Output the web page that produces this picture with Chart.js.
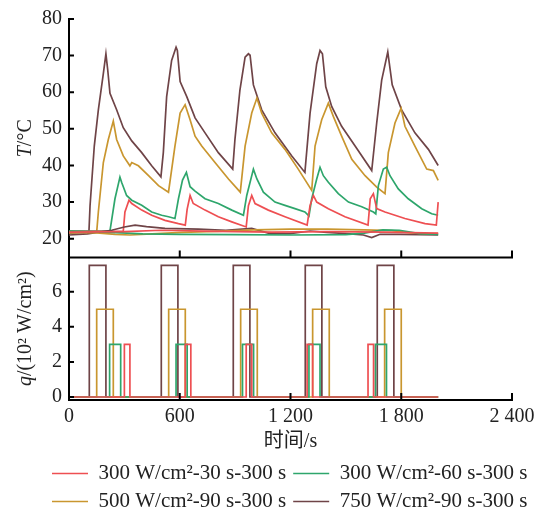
<!DOCTYPE html>
<html>
<head>
<meta charset="utf-8">
<title>T / q time chart</title>
<script src="https://cdn.jsdelivr.net/npm/chart.js@4.4.1/dist/chart.umd.min.js"></script>
<style>
html, body { margin:0; padding:0; background:#fff; }
#wrap { width:544px; height:512px; }
</style>
</head>
<body>
<div id="wrap"><canvas id="myChart" width="544" height="512"></canvas></div>
<script>
// legend labels and colours, in legend order
var seriesLabels = ['300 W/cm²-30 s-300 s', '300 W/cm²-60 s-300 s', '500 W/cm²-90 s-300 s', '750 W/cm²-90 s-300 s'];
var seriesColors = ['#ee4f52', '#2ea66c', '#c9962f', '#6f4447'];

// heated-side temperature (time s, T degC)
var redT_t = [0, 294, 303, 325, 340, 394, 448, 520, 593, 630, 640, 656, 673, 737, 809, 882, 960, 972, 990, 1008, 1080, 1170, 1290, 1306, 1324, 1342, 1405, 1495, 1620, 1632, 1649, 1667, 1712, 1820, 1929, 1990, 2000];
var redT   = [22.0, 22.0, 27.3, 30.5, 29.6, 27.8, 26.4, 25.0, 24.1, 23.7, 28.0, 31.8, 29.6, 27.8, 26.0, 24.6, 23.2, 29.0, 31.8, 29.6, 27.8, 26.0, 23.7, 29.1, 31.8, 30.0, 28.2, 26.0, 23.7, 30.9, 32.3, 28.2, 27.3, 25.5, 24.1, 23.7, 30.0];

var greenT_t = [0, 222, 249, 276, 285, 312, 340, 394, 448, 502, 539, 574, 593, 615, 636, 656, 683, 737, 809, 882, 945, 963, 999, 1018, 1053, 1116, 1170, 1224, 1278, 1300, 1315, 1342, 1360, 1378, 1405, 1459, 1514, 1586, 1649, 1662, 1676, 1703, 1721, 1739, 1784, 1838, 1911, 1965, 2000];
var greenT   = [22.1, 22.1, 30.9, 36.8, 35.4, 31.8, 30.5, 29.1, 27.3, 26.4, 26.0, 25.5, 30.9, 36.0, 38.1, 34.2, 33.0, 30.9, 29.6, 27.8, 26.4, 31.8, 39.0, 36.3, 32.7, 30.0, 29.1, 28.2, 27.3, 26.2, 30.9, 36.3, 39.5, 37.2, 35.4, 32.3, 30.0, 28.7, 27.3, 26.8, 34.5, 39.0, 39.5, 37.2, 33.6, 30.9, 28.2, 26.8, 26.4];

var goldT_t = [0, 150, 159, 186, 213, 240, 258, 294, 330, 340, 376, 431, 485, 539, 574, 602, 629, 656, 683, 719, 791, 864, 928, 954, 990, 1018, 1044, 1098, 1170, 1242, 1315, 1333, 1369, 1405, 1432, 1477, 1532, 1604, 1667, 1712, 1730, 1766, 1799, 1820, 1874, 1938, 1974, 2000];
var goldT   = [21.6, 21.8, 27.3, 40.8, 47.1, 52.1, 47.1, 42.6, 39.9, 40.8, 39.9, 37.2, 34.5, 32.7, 45.3, 54.3, 56.6, 52.5, 48.0, 45.3, 40.8, 36.3, 32.7, 45.3, 54.3, 58.4, 54.3, 48.9, 44.4, 39.0, 33.2, 45.3, 52.5, 57.0, 53.4, 48.0, 41.7, 37.2, 34.1, 32.3, 43.5, 51.6, 55.6, 50.7, 45.3, 39.0, 38.6, 35.9];

var brownT_t = [0, 108, 114, 137, 159, 186, 200, 210, 222, 258, 294, 340, 394, 448, 498, 511, 529, 556, 580, 587, 602, 638, 683, 737, 809, 887, 899, 926, 954, 972, 981, 999, 1044, 1116, 1207, 1278, 1306, 1342, 1360, 1373, 1391, 1423, 1477, 1550, 1640, 1667, 1694, 1727, 1751, 1802, 1874, 1947, 2000];
var brownT   = [21.5, 21.9, 29.0, 45.3, 55.2, 65.1, 70.5, 66.0, 59.7, 55.2, 50.3, 46.7, 43.5, 39.9, 36.9, 43.5, 58.8, 68.7, 72.3, 71.4, 62.9, 58.8, 53.0, 48.9, 43.5, 39.0, 47.1, 60.6, 69.6, 70.5, 70.1, 62.0, 55.2, 48.9, 42.6, 38.1, 54.3, 67.8, 71.4, 70.5, 61.5, 56.1, 50.7, 45.3, 38.6, 51.6, 63.3, 71.0, 62.0, 55.2, 48.9, 44.4, 40.0];

// back-side temperature (the flat curves near 21-23 degC)
var redLow_t = [0, 300, 500, 800, 1100, 1400, 1700, 2000];
var redLow   = [21.8, 21.9, 22.3, 22.0, 21.8, 21.9, 21.8, 21.5];
var greenLow_t = [0, 200, 400, 600, 900, 1200, 1500, 1600, 1700, 1790, 1900, 2000];
var greenLow   = [22.1, 21.8, 21.3, 21.2, 21.1, 21.0, 21.1, 21.5, 22.4, 22.3, 21.4, 21.2];
var goldLow_t = [0, 150, 250, 330, 450, 611, 800, 1000, 1200, 1400, 1600, 1750, 1850, 1950, 2000];
var goldLow   = [21.8, 21.6, 21.2, 21.0, 21.3, 21.7, 22.0, 22.4, 22.6, 22.6, 22.4, 22.2, 21.6, 21.3, 21.4];
var brownLow_t = [0, 100, 231, 300, 358, 420, 520, 701, 850, 990, 1089, 1197, 1306, 1396, 1505, 1595, 1640, 1685, 1793, 1900, 2000];
var brownLow   = [21.0, 21.3, 22.3, 23.2, 23.7, 23.3, 22.8, 22.6, 22.3, 22.8, 21.4, 21.4, 22.1, 21.7, 21.4, 21.0, 20.3, 21.2, 21.2, 21.1, 21.0];

// heat flux pulses: start times (s), length (s), level (10^2 W/cm2)
var redPulseStart = [300, 630, 960, 1290, 1620];
var redPulse = { len: 30, level: 3 };
var greenPulseStart = [220, 580, 940, 1300, 1660];
var greenPulse = { len: 60, level: 3 };
var goldPulseStart = [150, 540, 930, 1320, 1710];
var goldPulse = { len: 90, level: 5 };
var brownPulseStart = [110, 500, 890, 1280, 1670];
var brownPulse = { len: 90, level: 7.5 };
var tEnd = 2000;

// tick labels
var xTickVals = [0, 600, 1200, 1800, 2400];
var xTickLabels = ['0', '600', '1 200', '1 800', '2 400'];
var tTickVals = [20, 30, 40, 50, 60, 70, 80];
var qTickVals = [0, 2, 4, 6];

function pts(ts, vs) {
  return ts.map(function (t, i) { return { x: t, y: vs[i] }; });
}
function pulseLine(starts, p) {
  var out = [{ x: 0, y: 0 }];
  starts.forEach(function (s) {
    out.push({ x: s, y: 0 }, { x: s, y: p.level }, { x: s + p.len, y: p.level }, { x: s + p.len, y: 0 });
  });
  out.push({ x: tEnd, y: 0 });
  return out;
}

var heated = [pts(redT_t, redT), pts(greenT_t, greenT), pts(goldT_t, goldT), pts(brownT_t, brownT)];
var backSide = [pts(redLow_t, redLow), pts(greenLow_t, greenLow), pts(goldLow_t, goldLow), pts(brownLow_t, brownLow)];
var flux = [pulseLine(redPulseStart, redPulse), pulseLine(greenPulseStart, greenPulse),
            pulseLine(goldPulseStart, goldPulse), pulseLine(brownPulseStart, brownPulse)];

var serif = "'Liberation Serif', 'Times New Roman', serif";
var datasets = [];
function line(data, i, axis, label) {
  return {
    label: label || '', data: data, yAxisID: axis, inLegend: !!label,
    borderColor: seriesColors[i], backgroundColor: seriesColors[i],
    borderWidth: 1.7, pointRadius: 0, tension: 0, fill: false
  };
}
for (var i = 0; i < 4; i++) datasets.push(line(backSide[i], i, 'yT'));
for (var i = 0; i < 4; i++) datasets.push(line(heated[i], i, 'yT', seriesLabels[i]));
for (var i = 0; i < 4; i++) datasets.push(line(flux[i], i, 'yQ'));

// the legend sits a little right of the canvas centre in the original
var legendShift = {
  id: 'legendShift',
  afterLayout: function (chart) {
    chart.legend.left += 45;
    chart.legend.right += 45;
  }
};

// inward tick marks, the upper panel's own time axis and the y titles
var axisMarks = {
  id: 'axisMarks',
  afterDraw: function (chart) {
    var ctx = chart.ctx, x = chart.scales.x, yT = chart.scales.yT, yQ = chart.scales.yQ;
    ctx.save();
    ctx.strokeStyle = '#000';
    ctx.lineWidth = 2;
    ctx.beginPath();
    ctx.moveTo(x.left, yT.bottom); ctx.lineTo(x.right + 1, yT.bottom);
    x.ticks.forEach(function (t) {
      var px = x.getPixelForValue(t.value);
      if (px < x.left + 2) return;
      [yT.bottom, yQ.bottom].forEach(function (b) { ctx.moveTo(px, b); ctx.lineTo(px, b - 7); });
    });
    [yT, yQ].forEach(function (s) {
      s.ticks.forEach(function (t) {
        var py = s.getPixelForValue(t.value);
        ctx.moveTo(s.right, py); ctx.lineTo(s.right + 5, py);
      });
    });
    ctx.stroke();

    function title(parts, cy) {
      ctx.save();
      ctx.translate(31, cy);
      ctx.rotate(-Math.PI / 2);
      ctx.fillStyle = '#222';
      ctx.textBaseline = 'alphabetic';
      var w = 0;
      parts.forEach(function (p) { ctx.font = p.f; p.w = ctx.measureText(p.t).width; w += p.w; });
      var px = -w / 2;
      parts.forEach(function (p) { ctx.font = p.f; ctx.fillText(p.t, px, 0); px += p.w; });
      ctx.restore();
    }
    var it = 'italic 20px ' + serif, up = '20px ' + serif;
    title([{ t: 'T', f: it }, { t: '/°C', f: up }], (yT.top + yT.bottom) / 2);
    title([{ t: 'q', f: it }, { t: '/(10² W/cm²)', f: up }], (yQ.top + yQ.bottom) / 2);
    ctx.restore();
  }
};

function yAxis(min, max, tickVals, weight) {
  return {
    type: 'linear', position: 'left', stack: 'panels', stackWeight: weight,
    min: min, max: max,
    afterBuildTicks: function (s) { s.ticks = tickVals.map(function (v) { return { value: v }; }); },
    afterFit: function (s) { s.width = 69; },
    grid: { display: false, drawTicks: false },
    border: { display: true, color: '#000', width: 2 },
    ticks: { color: '#222', padding: 7, autoSkip: false, font: { family: serif, size: 20 } }
  };
}

var ctx = document.getElementById('myChart').getContext('2d');
var chart = new Chart(ctx, {
  type: 'line',
  data: { datasets: datasets },
  plugins: [axisMarks, legendShift],
  options: {
    responsive: false,
    animation: false,
    devicePixelRatio: 1,
    layout: { padding: { top: 15, right: 32, bottom: -10, left: 0 } },
    plugins: {
      tooltip: { enabled: false },
      legend: {
        position: 'bottom',
        align: 'start',
        labels: {
          filter: function (item, data) { return data.datasets[item.datasetIndex].inLegend; },
          usePointStyle: true, pointStyle: 'line', pointStyleWidth: 36,
          boxWidth: 36, padding: 7, color: '#222',
          font: { family: serif, size: 21 }
        }
      }
    },
    scales: {
      x: {
        type: 'linear', min: 0, max: 2400,
        afterBuildTicks: function (s) { s.ticks = xTickVals.map(function (v) { return { value: v }; }); },
        afterFit: function (s) { s.height = 56; },
        grid: { display: false, drawTicks: false },
        border: { display: true, color: '#000', width: 2 },
        ticks: {
          color: '#222', padding: 5, maxRotation: 0, autoSkip: false, font: { family: serif, size: 20 },
          callback: function (v) { return xTickLabels[xTickVals.indexOf(v)]; }
        },
        title: {
          display: true, text: '时间/s', color: '#222',
          font: { family: serif + ", 'Noto Sans CJK SC'", size: 20 },
          padding: { top: 0, bottom: 2.5 }
        }
      },
      yQ: yAxis(-0.17, 7.95, qTickVals, 144),
      yT: yAxis(14.86, 80, tTickVals, 241)
    }
  }
});
</script>
</body>
</html>
